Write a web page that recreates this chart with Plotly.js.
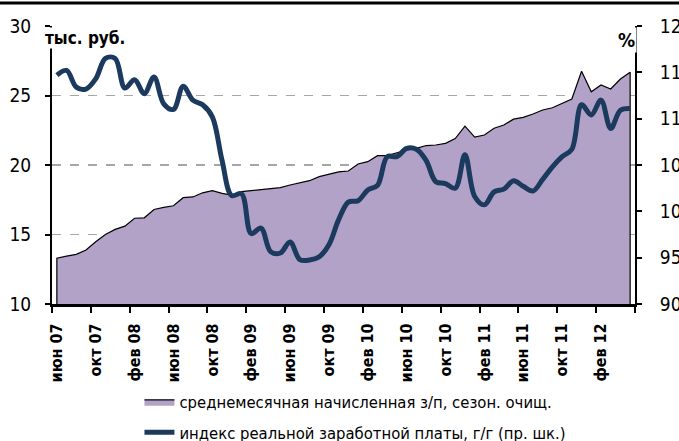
<!DOCTYPE html>
<html><head><meta charset="utf-8">
<script src="https://cdn.plot.ly/plotly-3.0.1.min.js"></script>
<style>html,body{margin:0;padding:0;background:#fff;}#chart{width:679px;height:441px;}</style>
</head><body><div id="chart"></div>
<script>
// monthly points, июн 2007 .. май 2012 (index 0..59)
const tickLabels = ['июн 07','окт 07','фев 08','июн 08','окт 08','фев 09','июн 09','окт 09','фев 10','июн 10','окт 10','фев 11','июн 11','окт 11','фев 12'];
const wage = [13.29,13.45,13.57,13.88,14.48,15.0,15.37,15.6,16.17,16.2,
              16.8,16.95,17.07,17.65,17.7,18.0,18.15,17.96,17.84,18.08,
              18.15,18.2,18.27,18.37,18.56,18.73,18.87,19.16,19.33,19.5,
              19.57,20.07,20.24,20.67,20.67,20.9,21.08,21.2,21.4,21.44,
              21.56,21.9,22.8,22.0,22.16,22.64,22.88,23.3,23.43,23.67,
              23.96,24.12,24.44,24.75,26.74,25.27,25.76,25.47,26.19,26.67];
const realIndex = [114.7,115.2,113.4,113.2,114.3,116.5,116.5,113.3,114.2,112.7,
                   114.5,111.6,111.0,113.5,112.0,111.5,110.2,105.5,101.7,101.9,
                   97.6,98.2,95.65,95.5,96.7,94.8,94.75,95.1,96.4,99.1,
                   101.0,101.15,102.3,102.8,105.9,105.9,106.8,106.7,105.5,103.2,
                   103.0,102.5,106.1,101.6,100.7,102.1,102.4,103.3,102.7,102.2,
                   103.45,104.8,105.9,106.7,111.5,110.4,112.0,108.95,110.9,111.1];
const seriesNames = ['среднемесячная начисленная з/п, сезон. очищ.','индекс реальной заработной платы, г/г (пр. шк.)'];

const idx = wage.map((_, i) => i);
const leftRange = [10, 30];
const rightRange = [90, 120];
const step = 4;
const tickVals = tickLabels.map((_, i) => i * step);
const boundaryVals = [];
for (let b = -0.5; b <= wage.length - 0.5; b += step) boundaryVals.push(b);

// closed polygon for the area (down to the axis minimum at both ends)
const areaX = [idx[0]].concat(idx, [idx[idx.length - 1]]);
const areaY = [leftRange[0]].concat(wage, [leftRange[0]]);

const FONT = 'DejaVu Sans Condensed, Liberation Sans Narrow, sans-serif';

const traces = [
  {x: areaX, y: areaY, type: 'scatter', mode: 'lines', fill: 'toself',
   fillcolor: '#b3a2c8', line: {color: '#000', width: 1.2},
   name: seriesNames[0], legendgroup: 'a', hoverinfo: 'skip'},
  {x: idx, y: realIndex, type: 'scatter', mode: 'lines', yaxis: 'y2',
   line: {color: '#1b3a5e', width: 5, shape: 'spline', smoothing: 1},
   name: seriesNames[1], legendgroup: 'b'}
];

const layout = {
  width: 679, height: 441,
  margin: {l: 52, r: 44, t: 26, b: 137, autoexpand: false},
  paper_bgcolor: '#fff', plot_bgcolor: '#fff',
  showlegend: true,
  legend: {x: 0.15, y: -0.29, xanchor: 'left', yanchor: 'top', orientation: 'v',
           font: {family: FONT, size: 16.5, color: '#000'}, tracegroupgap: 6,
           bgcolor: 'rgba(0,0,0,0)'},
  xaxis: {range: [-0.5, wage.length - 0.5], tickmode: 'array', tickvals: tickVals, ticktext: tickLabels,
          tickangle: -90, ticks: '', showgrid: false, zeroline: false, automargin: false,
          showline: true, linecolor: '#000', linewidth: 3,
          tickfont: {family: FONT, size: 16, color: '#000', weight: 'bold'},
          ticklabelstandoff: 10,
          minor: {tickmode: 'array', tickvals: boundaryVals, ticks: 'outside', ticklen: 6, tickwidth: 2, tickcolor: '#000', showgrid: false}},
  yaxis: {range: leftRange, tickmode: 'array', tickvals: [10,15,20,25,30], automargin: false,
          showgrid: true, gridcolor: '#a6a6a6', griddash: 'dash', gridwidth: 1.5,
          zeroline: false, showline: true, linecolor: '#000', linewidth: 2,
          ticks: 'outside', ticklen: 5, tickwidth: 2, tickcolor: '#000',
          ticklabelstandoff: 10,
          tickfont: {family: FONT, size: 19, color: '#000'}},
  yaxis2: {range: rightRange, overlaying: 'y', side: 'right', tickmode: 'array', automargin: false,
           tickvals: [90,95,100,105,110,115,120], showgrid: false, zeroline: false,
           showline: true, linecolor: '#000', linewidth: 2,
           ticks: 'outside', ticklen: 5, tickwidth: 2, tickcolor: '#000',
           ticklabelstandoff: 14,
           tickfont: {family: FONT, size: 19, color: '#000'}},
  annotations: [
    {text: 'тыс. руб.', xref: 'paper', yref: 'paper', x: -0.014, y: 0.995, xanchor: 'left', yanchor: 'top',
     showarrow: false, bgcolor: '#fff', borderpad: 0,
     font: {family: FONT, size: 17, color: '#000', weight: 'bold'}},
    {text: '%', xref: 'paper', yref: 'paper', x: 0.985, y: 0.995, xanchor: 'center', yanchor: 'top',
     showarrow: false, bgcolor: '#fff', borderpad: 1,
     font: {family: FONT, size: 19, color: '#000', weight: 'bold'}}
  ],
  shapes: [
    {type: 'line', xref: 'paper', yref: 'paper', x0: -0.2, x1: 1.2, y0: 1.083, y1: 1.083,
     line: {color: '#000', width: 3}}
  ]
};

Plotly.newPlot('chart', traces, layout, {displayModeBar: false, staticPlot: true});
</script></body></html>
